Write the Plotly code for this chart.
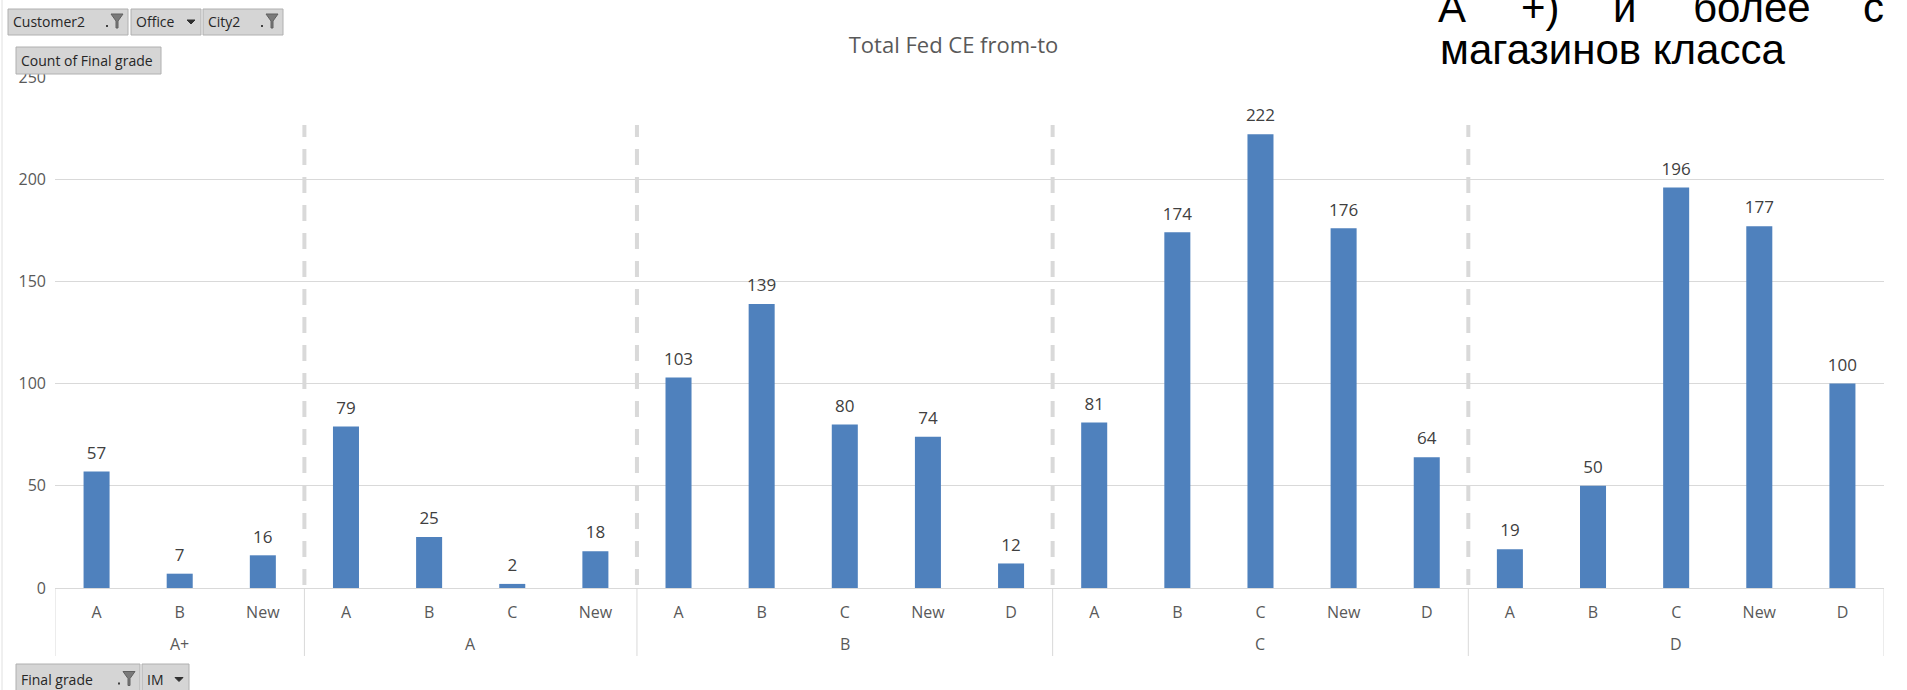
import plotly.graph_objects as go

# ---- data ----
groups = ["A+", "A", "B", "C", "D"]
subcats = [
    ["A", "B", "New"],
    ["A", "B", "C", "New"],
    ["A", "B", "C", "New", "D"],
    ["A", "B", "C", "New", "D"],
    ["A", "B", "C", "New", "D"],
]
values = [
    [57, 7, 16],
    [79, 25, 2, 18],
    [103, 139, 80, 74, 12],
    [81, 174, 222, 176, 64],
    [19, 50, 196, 177, 100],
]
title_text = "Total Fed CE from-to"
y_ticks = [0, 50, 100, 150, 200, 250]

# ---- layout geometry ----
W, H = 1907, 690
ML, MR, MT, MB = 55, 23, 77, 102
PW, PH = W - ML - MR, H - MT - MB


def px(x):
    return (x - ML) / PW


def py(y):
    return (H - MB - y) / PH


x_sub, y_val, x_idx = [], [], []
group_ranges = []
for g, subs, vals in zip(groups, subcats, values):
    start = len(x_idx)
    for s, v in zip(subs, vals):
        x_idx.append(len(x_idx))
        x_sub.append(s)
        y_val.append(v)
    group_ranges.append((g, start, len(x_idx) - 1))
N = len(x_idx)

BAR = "#4F81BD"
GRID = "#d9d9d9"
TXT = "#595959"
FONT = "Open Sans"

fig = go.Figure()
fig.add_trace(go.Bar(
    x=x_idx, y=y_val, marker_color=BAR, marker_line_width=0,
    showlegend=False, customdata=x_sub, hovertemplate="%{customdata}: %{y}<extra></extra>",
))
fig.add_trace(go.Scatter(
    x=x_idx, y=y_val, mode="markers+text",
    text=[str(v) for v in y_val], textposition="top center",
    textfont=dict(family=FONT, size=17, color="#404040"),
    marker=dict(size=12, opacity=0), showlegend=False, hoverinfo="skip",
    cliponaxis=False,
))

shapes = []
annotations = []

# group dividers under the axis + dashed separators in plot
for i, (g, a, b) in enumerate(group_ranges):
    for xb in ([a - 0.5, b + 0.5] if i == 0 else [b + 0.5]):
        shapes.append(dict(type="line", xref="x", yref="paper",
                           x0=xb, x1=xb, y0=py(589), y1=py(656),
                           line=dict(color=GRID, width=1)))
    annotations.append(dict(text=g, xref="x", yref="paper",
                            x=(a + b) / 2, y=py(644), xanchor="center",
                            yanchor="middle", showarrow=False,
                            font=dict(family=FONT, size=16, color=TXT)))
    if i < len(group_ranges) - 1:
        shapes.append(dict(type="line", xref="x", yref="paper",
                           x0=b + 0.5, x1=b + 0.5, y0=py(585), y1=py(125),
                           line=dict(color=GRID, width=4, dash="16px,12px"),
                           layer="below"))

# left border
shapes.append(dict(type="line", xref="paper", yref="paper",
                   x0=px(2), x1=px(2), y0=py(0), y1=py(H),
                   line=dict(color="#e0e0e0", width=1)))


def button(x0, y0, x1, y1, label, icon):
    shapes.append(dict(type="rect", xref="paper", yref="paper",
                       x0=px(x0), x1=px(x1), y0=py(y1), y1=py(y0),
                       fillcolor="#d5d5d5", line=dict(color="#b0b0b0", width=1),
                       layer="above"))
    annotations.append(dict(text=label, xref="paper", yref="paper",
                            x=px(x0 + 3), y=py((y0 + y1) / 2), xanchor="left",
                            yanchor="middle", showarrow=False,
                            font=dict(family=FONT, size=14, color="#262626")))
    cy = (y0 + y1) / 2
    if icon == "filter":
        fx = x1 - 11
        path = (f"M {px(fx-6)} {py(cy-8)} L {px(fx+6)} {py(cy-8)} "
                f"L {px(fx+1)} {py(cy-1)} L {px(fx+1)} {py(cy+6)} "
                f"L {px(fx-1)} {py(cy+6)} L {px(fx-1)} {py(cy-1)} Z")
        shapes.append(dict(type="path", xref="paper", yref="paper", path=path,
                           fillcolor="#7a7a7a", line=dict(color="#606060", width=1),
                           layer="above"))
        shapes.append(dict(type="rect", xref="paper", yref="paper",
                           x0=px(fx - 11), x1=px(fx - 9), y0=py(cy + 5), y1=py(cy + 3),
                           fillcolor="#404040", line=dict(width=0), layer="above"))
    elif icon == "drop":
        fx = x1 - 10
        path = (f"M {px(fx-4)} {py(cy-2)} L {px(fx+4)} {py(cy-2)} "
                f"L {px(fx)} {py(cy+2)} Z")
        shapes.append(dict(type="path", xref="paper", yref="paper", path=path,
                           fillcolor="#303030", line=dict(color="#303030", width=1),
                           layer="above"))


button(8, 9, 128, 35, "Customer2", "filter")
button(131, 9, 201, 35, "Office", "drop")
button(203, 9, 283, 35, "City2", "filter")
button(16, 47, 161, 74, "Count of Final grade", None)
button(16, 664, 140, 695, "Final grade", "filter")
button(142, 664, 189, 695, "IM", "drop")

# Russian overlay text
RU = dict(family="Liberation Sans, Arial", size=42, color="#000000")
line1 = [("А", 1436), ("+)", 1519), ("и", 1611), ("более", 1691), ("с", 1861)]
for word, xl in line1:
    annotations.append(dict(text=word, xref="paper", yref="paper",
                            x=px(xl), y=py(22 - 14.6), xanchor="left",
                            yanchor="middle", showarrow=False, font=RU))
annotations.append(dict(text="магазинов класса", xref="paper", yref="paper",
                        x=px(1438), y=py(64 - 14.6), xanchor="left",
                        yanchor="middle", showarrow=False, font=RU))

fig.update_layout(
    width=W, height=H,
    margin=dict(l=ML, r=MR, t=MT, b=MB),
    paper_bgcolor="white", plot_bgcolor="white",
    bargap=0.687,
    title=dict(text=title_text, x=0.5, xref="container", xanchor="center",
               y=1 - 45 / H, yref="container", yanchor="middle",
               font=dict(family=FONT, size=22, color=TXT)),
    xaxis=dict(range=[-0.5, N - 0.5], tickvals=x_idx, ticktext=x_sub,
               showline=True, linecolor=GRID, linewidth=1, showgrid=False,
               zeroline=False, ticks="", ticklabelstandoff=10,
               tickfont=dict(family=FONT, size=16, color=TXT), fixedrange=True),
    yaxis=dict(range=[0, 250], tickvals=y_ticks, showgrid=True, gridcolor=GRID,
               gridwidth=1, zeroline=False, showline=False, ticks="",
               ticklabelstandoff=8,
               tickfont=dict(family=FONT, size=16, color=TXT), fixedrange=True),
    shapes=shapes, annotations=annotations,
)

fig.write_html("out.html")
